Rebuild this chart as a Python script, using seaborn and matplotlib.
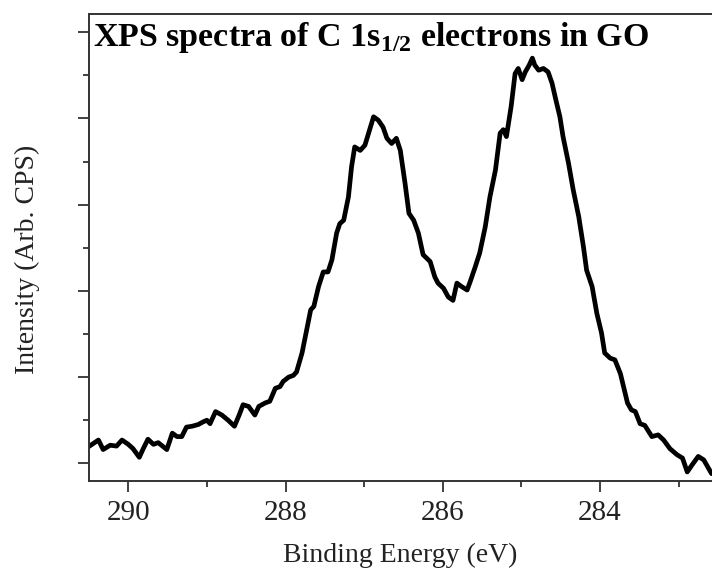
import matplotlib
matplotlib.use("Agg")
import matplotlib.pyplot as plt
from matplotlib.ticker import MultipleLocator, NullFormatter
import seaborn as sns
import pandas as pd

# C 1s spectrum of graphene oxide: binding energy (eV) and intensity (arb. units)
binding_energy = [
    290.51, 290.38, 290.32, 290.23, 290.15, 290.08, 290.00, 289.94, 289.86, 289.81,
    289.75, 289.68, 289.62, 289.55, 289.51, 289.44, 289.38, 289.32, 289.26, 289.19,
    289.11, 289.05, 289.00, 288.96, 288.89, 288.81, 288.73, 288.65, 288.59, 288.54,
    288.47, 288.39, 288.34, 288.26, 288.20, 288.13, 288.07, 288.03, 287.96, 287.90,
    287.86, 287.79, 287.73, 287.68, 287.64, 287.58, 287.52, 287.46, 287.41, 287.35,
    287.31, 287.26, 287.20, 287.16, 287.12, 287.05, 286.99, 286.93, 286.88, 286.82,
    286.76, 286.71, 286.65, 286.59, 286.54, 286.48, 286.43, 286.37, 286.31, 286.25,
    286.16, 286.10, 286.06, 285.99, 285.93, 285.87, 285.82, 285.76, 285.69, 285.65,
    285.59, 285.53, 285.46, 285.40, 285.33, 285.27, 285.23, 285.19, 285.13, 285.08,
    285.04, 284.99, 284.95, 284.90, 284.86, 284.83, 284.78, 284.72, 284.66, 284.61,
    284.57, 284.51, 284.47, 284.40, 284.34, 284.27, 284.21, 284.17, 284.10, 284.04,
    283.98, 283.94, 283.87, 283.81, 283.74, 283.70, 283.65, 283.60, 283.55, 283.49,
    283.43, 283.34, 283.26, 283.19, 283.11, 283.02, 282.95, 282.89, 282.83, 282.75,
    282.68, 282.58,
]
intensity = [
    0.19, 0.27, 0.16, 0.21, 0.20, 0.27, 0.22, 0.17, 0.07, 0.17,
    0.28, 0.22, 0.24, 0.19, 0.16, 0.35, 0.31, 0.31, 0.42, 0.43,
    0.45, 0.48, 0.50, 0.46, 0.60, 0.56, 0.50, 0.43, 0.56, 0.68,
    0.66, 0.56, 0.66, 0.70, 0.72, 0.87, 0.89, 0.95, 1.00, 1.02,
    1.06, 1.28, 1.55, 1.78, 1.82, 2.05, 2.22, 2.22, 2.36, 2.67,
    2.78, 2.82, 3.09, 3.44, 3.67, 3.63, 3.69, 3.87, 4.02, 3.98,
    3.90, 3.77, 3.71, 3.77, 3.63, 3.25, 2.90, 2.82, 2.67, 2.42,
    2.34, 2.16, 2.09, 2.03, 1.93, 1.89, 2.09, 2.05, 2.01, 2.11,
    2.27, 2.44, 2.74, 3.09, 3.40, 3.83, 3.87, 3.79, 4.14, 4.52,
    4.58, 4.45, 4.54, 4.62, 4.70, 4.62, 4.56, 4.58, 4.54, 4.41,
    4.25, 4.02, 3.79, 3.48, 3.17, 2.86, 2.51, 2.24, 2.05, 1.74,
    1.51, 1.28, 1.22, 1.20, 1.04, 0.89, 0.70, 0.62, 0.60, 0.46,
    0.44, 0.31, 0.33, 0.27, 0.17, 0.10, 0.06, -0.10, -0.02, 0.08,
    0.04, -0.12,
]
x_major_ticks = [284, 286, 288, 290]
x_tick_labels = ["284", "286", "288", "290"]

sns.set_theme(style="ticks")
plt.rcParams["font.family"] = ["Liberation Serif", "DejaVu Serif"]
plt.rcParams["mathtext.fontset"] = "custom"
plt.rcParams["mathtext.rm"] = "Liberation Serif"
plt.rcParams["mathtext.bf"] = "Liberation Serif:bold"

df = pd.DataFrame({"energy": binding_energy, "intensity": intensity})

fig = plt.figure(figsize=(7.12, 5.70), dpi=100)
ax = fig.add_axes([89 / 712, 89 / 570, 623 / 712, 467 / 570])

sns.lineplot(data=df, x="energy", y="intensity", sort=False, estimator=None,
             color="black", linewidth=3.4, ax=ax)

ax.set_xlim(290.5, 282.575)
ax.set_ylim(-0.205, 5.212)

ax.set_xticks(x_major_ticks)
ax.set_xticklabels(x_tick_labels)
ax.xaxis.set_minor_locator(MultipleLocator(1))
ax.yaxis.set_major_locator(MultipleLocator(1))
ax.yaxis.set_minor_locator(MultipleLocator(0.5))
ax.yaxis.set_major_formatter(NullFormatter())

spine_color = "#333333"
for side in ("left", "top", "bottom"):
    ax.spines[side].set_color(spine_color)
    ax.spines[side].set_linewidth(1.4)
ax.spines["right"].set_visible(False)

ax.tick_params(axis="both", which="major", direction="out", length=8,
               width=1.3, color=spine_color, labelsize=21, pad=6,
               labelcolor="#222222")
ax.tick_params(axis="both", which="minor", direction="out", length=4.5,
               width=1.3, color=spine_color)
ax.tick_params(axis="x", which="both", top=False)
ax.tick_params(axis="y", which="both", right=False)

ax.set_xlabel("Binding Energy (eV)", fontsize=20, labelpad=12, color="#222222")
ax.set_ylabel("Intensity (Arb. CPS)", fontsize=20, color="#222222")
ax.yaxis.set_label_coords(-0.079, 0.475)

ax.text(0.007, 0.987, r"XPS spectra of C 1s$_{\mathbf{1/2}}$ electrons in GO",
        transform=ax.transAxes, ha="left", va="top", fontsize=24.5,
        fontweight="bold", color="black")

fig.savefig("out.png", dpi=100)
